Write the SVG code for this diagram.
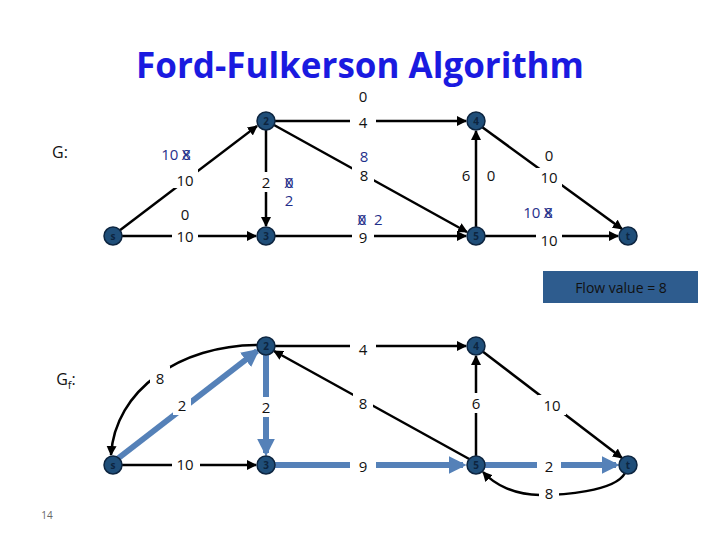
<svg xmlns="http://www.w3.org/2000/svg" width="720" height="540" viewBox="0 0 720 540">
<style>
text{font-family:"Open Sans","Liberation Sans",sans-serif;font-size:15px;text-anchor:middle;fill:#111}
.b{fill:#1f2f8a}
.n circle{fill:#1f4e79;stroke:#0d2540;stroke-width:1.5}
.n text{font-size:10px;fill:#0d2540;font-weight:bold}
.e{stroke:#000;stroke-width:2.5;fill:none;marker-end:url(#a)}
.h{stroke:#5581b8;stroke-width:6;fill:none;marker-end:url(#ab)}
.w{fill:#fff}
</style>
<defs>
<marker id="a" viewBox="0 0 10 10" refX="9" refY="5" markerWidth="4" markerHeight="4" orient="auto"><path d="M0,0L10,5L0,10z" fill="#000"/></marker>
<marker id="ab" viewBox="0 0 10 10" refX="8" refY="5" markerWidth="3" markerHeight="3" orient="auto"><path d="M0,0L10,5L0,10z" fill="#5581b8"/></marker>
</defs>
<text x="360" y="78" style="font-size:35px;font-weight:bold;fill:#1a1ae0">Ford-Fulkerson Algorithm</text>
<text x="60" y="158" style="font-size:16px">G:</text>
<text x="66" y="385" style="font-size:16px">G<tspan style="font-size:11px" dy="4">f</tspan><tspan dy="-4">:</tspan></text>
<text x="47" y="519" style="font-size:10px;fill:#666">14</text>
<g id="connectors">
<path class="e" d="M115,234L257,126"/>
<path class="e" d="M122,236L256,236"/>
<path class="e" d="M266,130L266,226"/>
<path class="e" d="M275,121L466,121"/>
<path class="e" d="M274,125L467,232"/>
<path class="e" d="M275,236L466,236"/>
<path class="e" d="M476,227L476,131"/>
<path class="e" d="M482,127L622,229"/>
<path class="e" d="M485,236L618,236"/>
<path class="h" d="M116,460L257,351"/>
<path class="h" d="M266,355L266,453"/>
<path class="h" d="M275,465L463,465"/>
<path class="h" d="M485,465L616,465"/>
<path class="e" d="M122,465L256,465"/>
<path class="e" d="M275,346L466,346"/>
<path class="e" d="M471,460L274,351"/>
<path class="e" d="M476,456L476,356"/>
<path class="e" d="M482,351L622,458"/>
<path class="e" d="M258,345C180,345 115,390 111,455"/>
<path class="e" d="M625,473C615,492 560,495 540,495C515,495 495,485 483,472"/>
</g>
<g id="labels">
<rect class="w" x="350" y="110" width="26" height="20"/><text x="363" y="102">0</text><text x="363" y="128">4</text>
<text class="b" x="176" y="160">10 8<tspan dx="-9">X</tspan></text>
<rect class="w" x="172" y="168" width="26" height="20"/><text x="185" y="186">10</text>
<rect class="w" x="258" y="172" width="16" height="20"/><text x="266" y="188">2</text>
<text class="b" x="289" y="188">0<tspan dx="-9">X</tspan></text><text class="b" x="289" y="206">2</text>
<text class="b" x="364" y="162">8</text>
<rect class="w" x="352" y="166" width="22" height="18"/><text x="364" y="181">8</text>
<rect class="w" x="458" y="165" width="16" height="20"/><text x="466" y="181">6</text><text x="491" y="181">0</text>
<text x="549" y="161">0</text>
<rect class="w" x="536" y="168" width="26" height="20"/><text x="549" y="183">10</text>
<text class="b" x="370" y="225">0<tspan dx="-9">X</tspan><tspan dx="8">2</tspan></text>
<text x="185" y="220">0</text>
<rect class="w" x="172" y="226" width="26" height="20"/><text x="185" y="242">10</text>
<rect class="w" x="352" y="228" width="22" height="18"/><text x="363" y="243">9</text>
<text class="b" x="538" y="218">10 8<tspan dx="-9">X</tspan></text>
<rect class="w" x="536" y="229" width="26" height="20"/><text x="549" y="246">10</text>
<rect x="543" y="271" width="155" height="32" fill="#2e5c8e"/>
<text x="621" y="293" style="font-size:14px;fill:#111">Flow value = 8</text>
<rect class="w" x="350" y="338" width="26" height="18"/><text x="363" y="355">4</text>
<rect class="w" x="150" y="366" width="20" height="22"/><text x="160" y="384">8</text>
<rect class="w" x="173" y="395" width="18" height="20"/><text x="182" y="411">2</text>
<rect class="w" x="258" y="397" width="16" height="20"/><text x="266" y="413">2</text>
<rect class="w" x="353" y="393" width="20" height="20"/><text x="363" y="409">8</text>
<rect class="w" x="467" y="393" width="18" height="20"/><text x="476" y="409">6</text>
<rect class="w" x="538" y="395" width="28" height="20"/><text x="552" y="411">10</text>
<rect class="w" x="172" y="455" width="28" height="20"/><text x="185" y="470">10</text>
<rect class="w" x="350" y="455" width="26" height="20"/><text x="363" y="472">9</text>
<rect class="w" x="537" y="455" width="24" height="20"/><text x="549" y="472">2</text>
<rect class="w" x="539" y="484" width="20" height="20"/><text x="549" y="499">8</text>
</g>
<g id="n-s1" class="n"><circle cx="113" cy="236" r="9"/><text x="113" y="240">s</text></g>
<g id="n-2a" class="n"><circle cx="266" cy="121" r="9"/><text x="266" y="125">2</text></g>
<g id="n-3a" class="n"><circle cx="266" cy="236" r="9"/><text x="266" y="240">3</text></g>
<g id="n-4a" class="n"><circle cx="476" cy="121" r="9"/><text x="476" y="125">4</text></g>
<g id="n-5a" class="n"><circle cx="476" cy="236" r="9"/><text x="476" y="240">5</text></g>
<g id="n-ta" class="n"><circle cx="628" cy="236" r="9"/><text x="628" y="240">t</text></g>
<g id="n-s2" class="n"><circle cx="113" cy="465" r="9"/><text x="113" y="469">s</text></g>
<g id="n-2b" class="n"><circle cx="266" cy="346" r="9"/><text x="266" y="350">2</text></g>
<g id="n-3b" class="n"><circle cx="266" cy="465" r="9"/><text x="266" y="469">3</text></g>
<g id="n-4b" class="n"><circle cx="476" cy="346" r="9"/><text x="476" y="350">4</text></g>
<g id="n-5b" class="n"><circle cx="476" cy="465" r="9"/><text x="476" y="469">5</text></g>
<g id="n-tb" class="n"><circle cx="628" cy="465" r="9"/><text x="628" y="469">t</text></g>
</svg>
